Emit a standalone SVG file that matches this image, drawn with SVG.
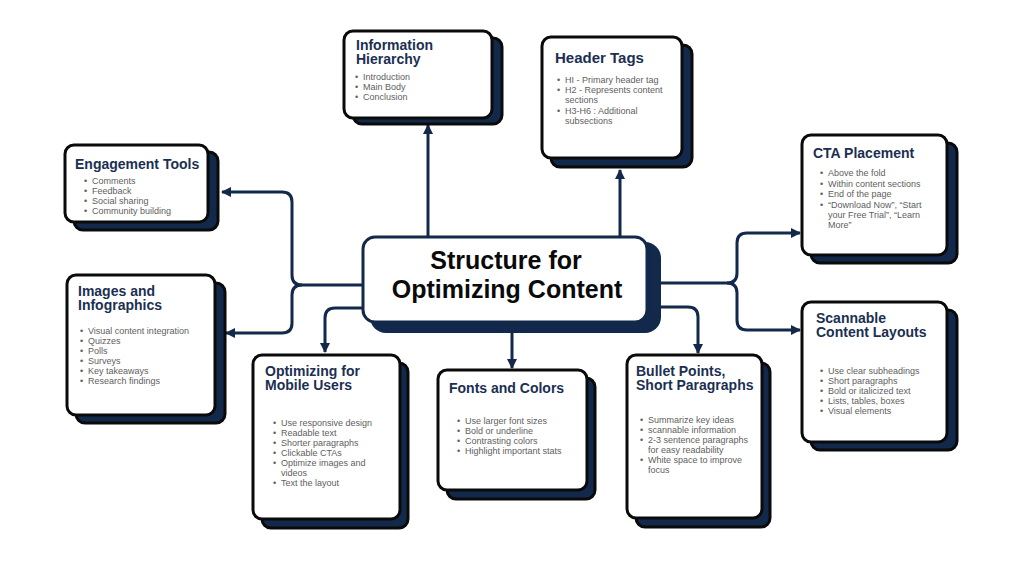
<svg xmlns="http://www.w3.org/2000/svg" width="1024" height="576" viewBox="0 0 1024 576">
<defs>
<marker id="arr" viewBox="0 0 10 10" refX="9" refY="5" markerWidth="10" markerHeight="10" markerUnits="userSpaceOnUse" orient="auto">
<path d="M0,0 L10,5 L0,10 Z" fill="#13294b"/>
</marker>
<style>
.sh{fill:#13294b;stroke:#0a0a0a;stroke-width:3}
.fr{fill:#ffffff;stroke:#0a0a0a;stroke-width:3}
.t{font-family:"Liberation Sans",Arial,sans-serif;font-weight:bold;font-size:14px;fill:#1b2f52}
.b{font-family:"Liberation Sans",Arial,sans-serif;font-size:9px;fill:#606060}
.c{stroke:#13294b;stroke-width:3;fill:none;marker-end:url(#arr)}
</style>
</defs>
<rect width="1024" height="576" fill="#ffffff"/>

<g id="connectors">
<path class="c" d="M363,285 H302 Q292,285 292,275 V202 Q292,192 282,192 H222"/>
<path class="c" d="M302,285 Q292,285 292,295 V323 Q292,333 282,333 H226"/>
<path class="c" d="M363,308 H335 Q325,308 325,318 V352"/>
<path class="c" d="M428,237 V125"/>
<path class="c" d="M620,237 V170"/>
<path class="c" d="M512,333 V368"/>
<path class="c" d="M655,307 H688 Q698,307 698,317 V353"/>
<path class="c" d="M655,283 H727 Q737,283 737,273 V243 Q737,233 747,233 H800"/>
<path class="c" d="M727,283 Q737,283 737,293 V320 Q737,330 747,330 H800"/>
</g>

<g id="center">
<rect x="370" y="242" width="291" height="91" rx="16" fill="#13294b"/>
<rect x="363" y="237" width="284" height="85" rx="12" fill="#ffffff" stroke="#13294b" stroke-width="3"/>
<text x="506" y="269" text-anchor="middle" font-family="'Liberation Sans',Arial,sans-serif" font-weight="bold" font-size="25" fill="#0a0a0a">Structure for</text>
<text x="507" y="298" text-anchor="middle" font-family="'Liberation Sans',Arial,sans-serif" font-weight="bold" font-size="25" fill="#0a0a0a">Optimizing Content</text>
</g>

<g id="info-hierarchy">
<rect class="sh" x="353" y="38" width="149" height="86" rx="9"/>
<rect class="fr" x="344" y="31" width="148" height="87" rx="9"/>
<text class="t" x="356" y="50">Information</text>
<text class="t" x="356" y="64">Hierarchy</text>
<text class="b" x="355" y="80">•</text><text class="b" x="363" y="80">Introduction</text>
<text class="b" x="355" y="90">•</text><text class="b" x="363" y="90">Main Body</text>
<text class="b" x="355" y="100">•</text><text class="b" x="363" y="100">Conclusion</text>
</g>

<g id="header-tags">
<rect class="sh" x="551" y="45" width="141" height="122" rx="9"/>
<rect class="fr" x="542" y="37" width="140" height="121" rx="9"/>
<text class="t" x="555" y="63" style="font-size:15px">Header Tags</text>
<text class="b" x="557" y="83">•</text><text class="b" x="565" y="83">HI - Primary header tag</text>
<text class="b" x="557" y="93">•</text><text class="b" x="565" y="93">H2 - Represents content</text>
<text class="b" x="565" y="103">sections</text>
<text class="b" x="557" y="114">•</text><text class="b" x="565" y="114">H3-H6 : Additional</text>
<text class="b" x="565" y="124">subsections</text>
</g>

<g id="engagement-tools">
<rect class="sh" x="74" y="152" width="144" height="78" rx="9"/>
<rect class="fr" x="65" y="145" width="143" height="77" rx="9"/>
<text class="t" x="75" y="169">Engagement Tools</text>
<text class="b" x="84" y="184">•</text><text class="b" x="92" y="184">Comments</text>
<text class="b" x="84" y="194">•</text><text class="b" x="92" y="194">Feedback</text>
<text class="b" x="84" y="204">•</text><text class="b" x="92" y="204">Social sharing</text>
<text class="b" x="84" y="214">•</text><text class="b" x="92" y="214">Community building</text>
</g>

<g id="cta-placement">
<rect class="sh" x="811" y="143" width="146" height="120" rx="9"/>
<rect class="fr" x="802" y="135" width="145" height="120" rx="9"/>
<text class="t" x="813" y="158">CTA Placement</text>
<text class="b" x="820" y="176">•</text><text class="b" x="828" y="176">Above the fold</text>
<text class="b" x="820" y="187">•</text><text class="b" x="828" y="187">Within content sections</text>
<text class="b" x="820" y="197">•</text><text class="b" x="828" y="197">End of the page</text>
<text class="b" x="820" y="208">•</text><text class="b" x="828" y="208">“Download Now”, “Start</text>
<text class="b" x="828" y="218">your Free Trial”, “Learn</text>
<text class="b" x="828" y="228">More”</text>
</g>

<g id="images-infographics">
<rect class="sh" x="76" y="283" width="149" height="140" rx="9"/>
<rect class="fr" x="67" y="275" width="148" height="140" rx="9"/>
<text class="t" x="78" y="296">Images and</text>
<text class="t" x="78" y="310">Infographics</text>
<text class="b" x="80" y="334">•</text><text class="b" x="88" y="334">Visual content integration</text>
<text class="b" x="80" y="344">•</text><text class="b" x="88" y="344">Quizzes</text>
<text class="b" x="80" y="354">•</text><text class="b" x="88" y="354">Polls</text>
<text class="b" x="80" y="364">•</text><text class="b" x="88" y="364">Surveys</text>
<text class="b" x="80" y="374">•</text><text class="b" x="88" y="374">Key takeaways</text>
<text class="b" x="80" y="384">•</text><text class="b" x="88" y="384">Research findings</text>
</g>

<g id="mobile-users">
<rect class="sh" x="262" y="363" width="146" height="165" rx="9"/>
<rect class="fr" x="253" y="355" width="147" height="164" rx="9"/>
<text class="t" x="265" y="376">Optimizing for</text>
<text class="t" x="265" y="390">Mobile Users</text>
<text class="b" x="273" y="426">•</text><text class="b" x="281" y="426">Use responsive design</text>
<text class="b" x="273" y="436">•</text><text class="b" x="281" y="436">Readable text</text>
<text class="b" x="273" y="446">•</text><text class="b" x="281" y="446">Shorter paragraphs</text>
<text class="b" x="273" y="456">•</text><text class="b" x="281" y="456">Clickable CTAs</text>
<text class="b" x="273" y="466">•</text><text class="b" x="281" y="466">Optimize images and</text>
<text class="b" x="281" y="476">videos</text>
<text class="b" x="273" y="486">•</text><text class="b" x="281" y="486">Text the layout</text>
</g>

<g id="fonts-colors">
<rect class="sh" x="447" y="378" width="148" height="121" rx="9"/>
<rect class="fr" x="438" y="370" width="149" height="120" rx="9"/>
<text class="t" x="449" y="393">Fonts and Colors</text>
<text class="b" x="457" y="424">•</text><text class="b" x="465" y="424">Use larger font sizes</text>
<text class="b" x="457" y="434">•</text><text class="b" x="465" y="434">Bold or underline</text>
<text class="b" x="457" y="444">•</text><text class="b" x="465" y="444">Contrasting colors</text>
<text class="b" x="457" y="454">•</text><text class="b" x="465" y="454">Highlight important stats</text>
</g>

<g id="bullet-points">
<rect class="sh" x="636" y="363" width="134" height="164" rx="9"/>
<rect class="fr" x="627" y="355" width="135" height="163" rx="9"/>
<text class="t" x="636" y="376">Bullet Points,</text>
<text class="t" x="636" y="390">Short Paragraphs</text>
<text class="b" x="640" y="423">•</text><text class="b" x="648" y="423">Summarize key ideas</text>
<text class="b" x="640" y="433">•</text><text class="b" x="648" y="433">scannable information</text>
<text class="b" x="640" y="443">•</text><text class="b" x="648" y="443">2-3 sentence paragraphs</text>
<text class="b" x="648" y="453">for easy readability</text>
<text class="b" x="640" y="463">•</text><text class="b" x="648" y="463">White space to improve</text>
<text class="b" x="648" y="473">focus</text>
</g>

<g id="scannable-layouts">
<rect class="sh" x="811" y="310" width="146" height="140" rx="9"/>
<rect class="fr" x="802" y="302" width="145" height="140" rx="9"/>
<text class="t" x="816" y="323">Scannable</text>
<text class="t" x="816" y="337">Content Layouts</text>
<text class="b" x="820" y="374">•</text><text class="b" x="828" y="374">Use clear subheadings</text>
<text class="b" x="820" y="384">•</text><text class="b" x="828" y="384">Short paragraphs</text>
<text class="b" x="820" y="394">•</text><text class="b" x="828" y="394">Bold or italicized text</text>
<text class="b" x="820" y="404">•</text><text class="b" x="828" y="404">Lists, tables, boxes</text>
<text class="b" x="820" y="414">•</text><text class="b" x="828" y="414">Visual elements</text>
</g>
</svg>
